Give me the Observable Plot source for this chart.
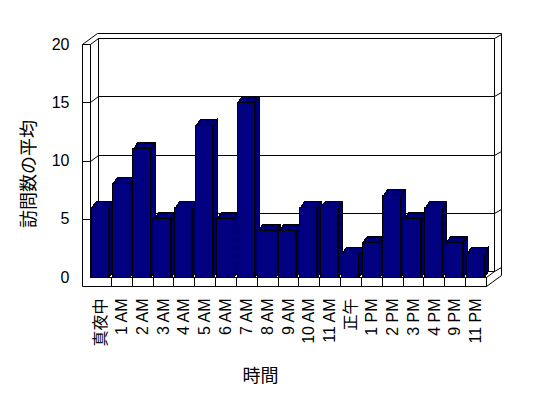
<!DOCTYPE html>
<html>
<head>
<meta charset="utf-8">
<script src="https://cdn.jsdelivr.net/npm/d3@7"></script>
<script src="https://cdn.jsdelivr.net/npm/@observablehq/plot@0.6"></script>
<style>
  html, body { margin: 0; padding: 0; background: #fff; }
</style>
</head>
<body>
<div id="chart"></div>
<script>
// ---- data ----
const categories = ["真夜中", "1 AM", "2 AM", "3 AM", "4 AM", "5 AM", "6 AM", "7 AM", "8 AM", "9 AM", "10 AM", "11 AM", "正午", "1 PM", "2 PM", "3 PM", "4 PM", "9 PM", "11 PM"];
const values = [6, 8, 11, 5, 6, 13, 5, 15, 4, 4, 6, 6, 2, 3, 7, 5, 6, 3, 2];
const yTicks = [0, 5, 10, 15, 20];
const yTitle = "訪問数の平均";
const xTitle = "時間";

// ---- 3D styling constants (pixels) ----
const WALL = 8;              // left wall thickness at front
const BX = 8, BY = -6;       // back wall inner offset
const OX = 15, OY = -11;     // outer box offset
const FLOOR = 9;             // floor thickness
const BAR_DX = 4.5, BAR_DY = -6.5; // bar depth
const INSET_L = 1.2, INSET_R = 2.5;
const NAVY = "#000080";

const c = v => Math.round(v) + 0.5;
const n = categories.length;

function frameMark(index, scales) {
  const xs = scales.x, ys = scales.y;
  const XL = xs(-0.5), XR = xs(n - 0.5), Y0 = ys(0), Y20 = ys(yTicks[yTicks.length - 1]);
  const g = d3.create("svg:g").attr("fill", "none").attr("stroke", "black").attr("stroke-width", 1);
  const seg = (pts) => g.append("path").attr("d", "M" + pts.map(p => c(p[0]) + "," + c(p[1])).join("L"));
  // outer box
  seg([[XL - WALL, Y0 + FLOOR], [XL - WALL, Y20], [XL - WALL + OX, Y20 + OY], [XR + OX, Y20 + OY], [XR + OX, Y0 + FLOOR + OY], [XR, Y0 + FLOOR], [XL - WALL, Y0 + FLOOR]]);
  // front inner edges
  seg([[XL, Y20], [XL, Y0], [XR, Y0], [XR, Y0 + FLOOR]]);
  // back inner wall
  seg([[XL + BX, Y0 + BY], [XL + BX, Y20 + BY], [XR + BX, Y20 + BY], [XR + BX, Y0 + BY]]);
  seg([[XL + BX, Y0 + BY], [XR + BX, Y0 + BY]]);
  seg([[XR, Y0], [XR + BX, Y0 + BY]]);
  seg([[XL, Y0], [XL + BX, Y0 + BY]]);
  // ticks & gridlines
  for (const t of yTicks) {
    const y = ys(t);
    if (t > 0) seg([[XL - WALL, y], [XL, y]]);
    seg([[XL, y], [XL + BX, y + BY], [XR + BX, y + BY], [XR + OX, y + OY + 1]]);
  }
  // floor dividers
  for (let k = 1; k < n; k++) {
    const x = xs(k - 0.5);
    seg([[x, Y0], [x, Y0 + FLOOR]]);
  }
  return g.node();
}

function barFaces(index, scales) {
  const xs = scales.x, ys = scales.y;
  const g = d3.create("svg:g").attr("stroke", "black").attr("stroke-width", 1).attr("fill", "url(#dither)").attr("shape-rendering", "crispEdges");
  values.forEach((v, i) => {
    const L = xs(i - 0.5) + INSET_L, R = xs(i + 0.5) - INSET_R;
    const T = ys(v), B = ys(0);
    const p = pts => "M" + pts.map(q => c(q[0]) + "," + c(q[1])).join("L") + "Z";
    g.append("path").attr("d", p([[R, B], [R, T], [R + BAR_DX, T + BAR_DY], [R + BAR_DX, B + BAR_DY]]));
    g.append("path").attr("d", p([[L, T], [L + BAR_DX, T + BAR_DY], [R + BAR_DX, T + BAR_DY], [R, T]]));
  });
  return g.node();
}

const svg = Plot.plot({
  width: 548,
  height: 398,
  marginLeft: 90,
  marginRight: 62,
  marginTop: 44,
  marginBottom: 121,
  style: {
    fontFamily: '"Liberation Sans", Arial, "Noto Sans CJK JP", sans-serif',
    fontSize: "16px",
    background: "#fff",
    color: "#000"
  },
  x: { domain: [-0.5, n - 0.5], axis: null },
  y: { domain: [0, 20], axis: null },
  marks: [
    frameMark,
    barFaces,
    Plot.rect(values, {
      x1: (d, i) => i - 0.5,
      x2: (d, i) => i + 0.5,
      y1: () => 0,
      y2: d => d,
      insetLeft: INSET_L,
      insetRight: INSET_R,
      fill: NAVY,
      stroke: "black",
      strokeWidth: 1,
      shapeRendering: "crispEdges"
    }),
    Plot.text(yTicks, {
      x: () => -0.5,
      y: d => d,
      text: d => String(d),
      dx: -21,
      textAnchor: "end",
      fontSize: 16,
      fill: "black"
    }),
    Plot.text(categories, {
      x: (d, i) => i,
      y: () => 0,
      text: d => d,
      dy: 21,
      rotate: -90,
      textAnchor: "end",
      fontSize: 16,
      fill: "black"
    }),
    Plot.text([yTitle], {
      frameAnchor: "left",
      text: d => d,
      dx: -61,
      dy: 13,
      rotate: -90,
      textAnchor: "middle",
      lineAnchor: "middle",
      fontSize: 18,
      fill: "black"
    }),
    Plot.text([xTitle], {
      frameAnchor: "bottom",
      text: d => d,
      dx: -28,
      dy: 99,
      textAnchor: "middle",
      lineAnchor: "middle",
      fontSize: 18,
      fill: "black"
    })
  ]
});

// dithered pattern used for the bars' top and side faces
const defs = d3.create("svg:defs");
const pat = defs.append("pattern").attr("id", "dither").attr("width", 2).attr("height", 2).attr("patternUnits", "userSpaceOnUse");
pat.append("rect").attr("width", 2).attr("height", 2).attr("fill", "#000");
pat.append("rect").attr("width", 1).attr("height", 1).attr("fill", NAVY);
pat.append("rect").attr("x", 1).attr("y", 1).attr("width", 1).attr("height", 1).attr("fill", NAVY);
svg.insertBefore(defs.node(), svg.firstChild);

document.getElementById("chart").appendChild(svg);
</script>
</body>
</html>
